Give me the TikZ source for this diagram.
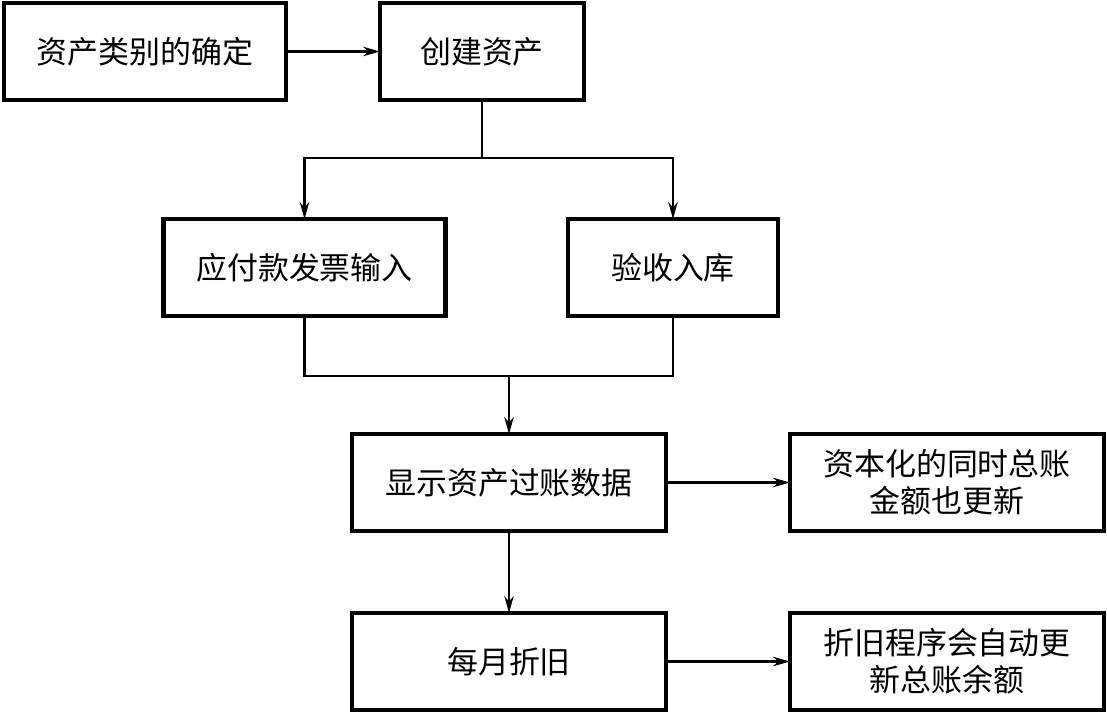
\documentclass[tikz,border=0pt]{standalone}
\usepackage{fontspec}
\setmainfont{Noto Sans CJK SC}
\usepackage{tikz}
\usetikzlibrary{positioning, arrows.meta, calc}

\begin{document}
\begin{tikzpicture}[>={Stealth[length=0.34cm, width=0.19cm]},
        box/.style={draw, line width=2.3pt, inner sep=0pt, outer sep=0pt,
            minimum height=1.94cm, font=\fontsize{17.6}{21}\selectfont, align=center},
        link/.style={line width=1.3pt}]
      \useasboundingbox (0,0) rectangle (22.14,-14.26);
      \node[box, minimum width=5.64cm] (cat) at (2.90,-1.03) {资产类别的确定};
      \node[box, minimum width=4.08cm] (create) at (9.64,-1.03) {创建资产};
      \node[box, minimum width=5.64cm] (invoice) at (6.09,-5.35) {应付款发票输入};
      \node[box, minimum width=4.20cm] (receipt) at (13.46,-5.35) {验收入库};
      \node[box, minimum width=6.28cm] (post) at (10.18,-9.65) {显示资产过账数据};
      \node[box, minimum width=6.28cm] (ledger) at (18.94,-9.65) {资本化的同时总账\\金额也更新};
      \node[box, minimum width=6.28cm] (depr) at (10.18,-13.23) {每月折旧};
      \node[box, minimum width=6.28cm] (auto) at (18.94,-13.23) {折旧程序会自动更\\新总账余额};
      \coordinate (split) at ($(create.south)+(0,-1.16)$);
      \coordinate (join) at (10.18,-7.52);
      \draw[link, ->] (cat) -- (create);
      \draw[link] (create) -- (split);
      \draw[link, ->] (split) -| (invoice);
      \draw[link, ->] (split) -| (receipt);
      \draw[link] (invoice) |- (join);
      \draw[link] (receipt) |- (join);
      \draw[link, ->] (join) -- (post);
      \draw[link, ->] (post) -- (ledger);
      \draw[link, ->] (post) -- (depr);
      \draw[link, ->] (depr) -- (auto);
    \end{tikzpicture}
\end{document}
